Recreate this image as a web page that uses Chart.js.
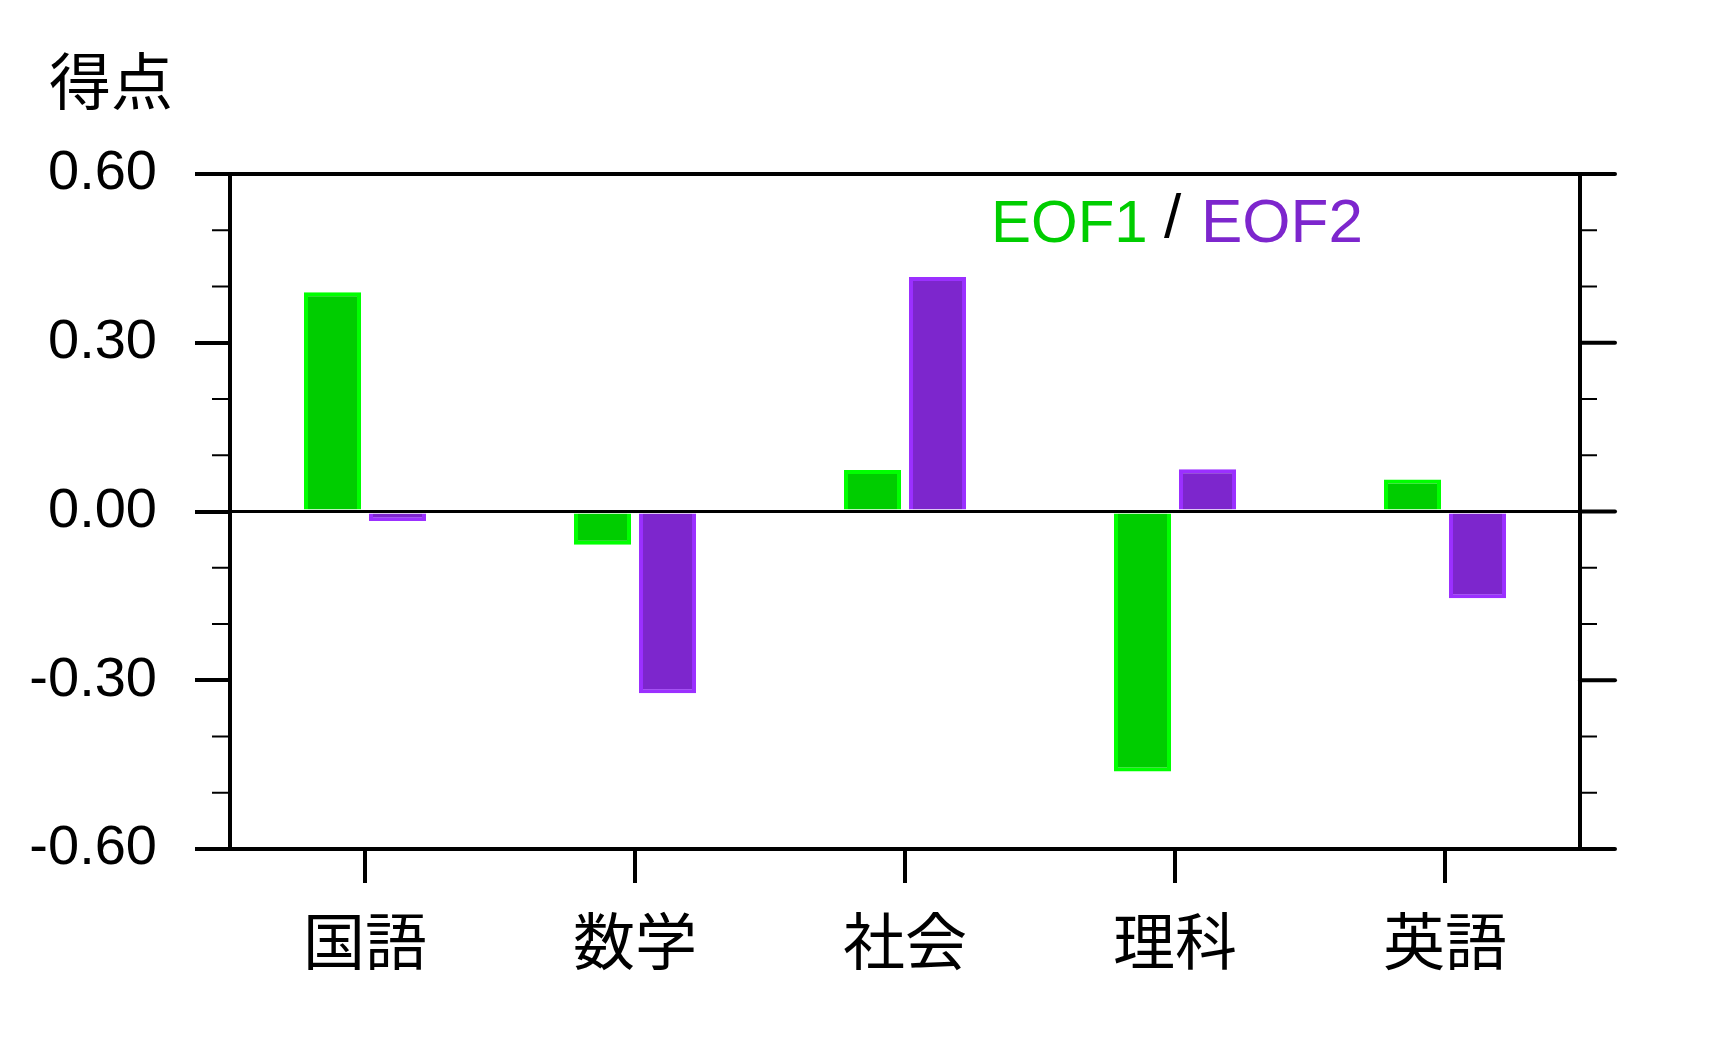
<!DOCTYPE html>
<html>
<head>
<meta charset="utf-8">
<script src="https://cdn.jsdelivr.net/npm/chart.js@4.4.0/dist/chart.umd.min.js"></script>
<style>
  html, body { margin: 0; padding: 0; background: #fff; }
  canvas { display: block; }
</style>
</head>
<body>
<canvas id="c" width="1712" height="1044" style="width:1712px;height:1044px"></canvas>
<script>
// ---- data ----
const categories = ['国語', '数学', '社会', '理科', '英語'];
const eof1 = [0.390, -0.059, 0.074, -0.462, 0.057];
const eof2 = [-0.017, -0.323, 0.417, 0.075, -0.154];
const yMajorTicks = [-0.6, -0.3, 0, 0.3, 0.6];
const yTickLabels = ['-0.60', '-0.30', '0.00', '0.30', '0.60'];
const yMinorTicks = [-0.5, -0.4, -0.2, -0.1, 0.1, 0.2, 0.4, 0.5];
const yTitle = '得点';
const seriesNames = ['EOF1', 'EOF2'];

const GREEN_FILL = '#00CD00', GREEN_EDGE = '#00FF00';
const PURPLE_FILL = '#7D26CD', PURPLE_EDGE = '#9B30FF';
const NUM_FONT = '"Liberation Sans", Arial, Helvetica, sans-serif';
const CJK_FONT = '"Noto Sans CJK JP", "Noto Sans CJK SC", sans-serif';

function seg(ctx, x1, y1, x2, y2) {
  ctx.beginPath(); ctx.moveTo(x1, y1); ctx.lineTo(x2, y2); ctx.stroke();
}

const framePlugin = {
  id: 'frame',
  beforeDatasetsDraw(chart) {
    const { ctx, chartArea: a, scales: { y } } = chart;
    ctx.save();
    ctx.strokeStyle = '#000';
    ctx.lineWidth = 3;
    const y0 = y.getPixelForValue(0);
    seg(ctx, a.left, y0, a.right, y0);
    ctx.restore();
  },
  afterDraw(chart) {
    const { ctx, chartArea: a, scales: { y } } = chart;
    ctx.save();
    ctx.strokeStyle = '#000';
    // top & right border
    ctx.lineWidth = 4;
    seg(ctx, a.left - 2, a.top, a.right + 2, a.top);
    seg(ctx, a.right, a.top - 2, a.right, a.bottom + 2);
    // right major ticks
    ctx.lineCap = 'round';
    yMajorTicks.forEach(v => {
      const p = y.getPixelForValue(v);
      seg(ctx, a.right, p, a.right + 35, p);
    });
    // minor ticks
    ctx.lineCap = 'butt';
    ctx.lineWidth = 2;
    yMinorTicks.forEach(v => {
      const p = y.getPixelForValue(v);
      seg(ctx, a.left - 18, p, a.left, p);
      seg(ctx, a.right, p, a.right + 17, p);
    });
    // y title
    ctx.fillStyle = '#000';
    ctx.font = '62px ' + CJK_FONT;
    ctx.textAlign = 'left';
    ctx.textBaseline = 'middle';
    ctx.fillText(yTitle, 49, 81);
    // legend text
    ctx.textBaseline = 'alphabetic';
    const baseY = 242;
    ctx.font = '60px ' + NUM_FONT;
    ctx.fillStyle = GREEN_FILL;
    ctx.fillText(seriesNames[0], 991, baseY);
    ctx.font = '62px ' + NUM_FONT;
    ctx.fillStyle = '#000';
    ctx.fillText('/', 1164, baseY - 5);
    ctx.fillStyle = PURPLE_FILL;
    ctx.fillText(seriesNames[1], 1201, baseY);
    ctx.restore();
  }
};

new Chart(document.getElementById('c'), {
  type: 'bar',
  data: {
    labels: categories,
    datasets: [
      { label: seriesNames[0], data: eof1, backgroundColor: GREEN_FILL, borderColor: GREEN_EDGE, borderWidth: 4,
        categoryPercentage: 0.4815, barPercentage: 0.877 },
      { label: seriesNames[1], data: eof2, backgroundColor: PURPLE_FILL, borderColor: PURPLE_EDGE, borderWidth: 4,
        categoryPercentage: 0.4815, barPercentage: 0.877 }
    ]
  },
  options: {
    responsive: false,
    devicePixelRatio: 1,
    animation: false,
    layout: { padding: { top: 174, left: 0, right: 132, bottom: 45 } },
    plugins: { legend: { display: false }, tooltip: { enabled: false }, title: { display: false } },
    scales: {
      x: {
        offset: true,
        grid: { display: true, offset: false, drawOnChartArea: false, drawTicks: true, tickLength: 34,
                color: '#000', tickColor: '#000', lineWidth: 4, tickWidth: 4 },
        border: { display: true, color: '#000', width: 4 },
        ticks: { color: '#000', font: { family: CJK_FONT, size: 62 }, padding: 21, maxRotation: 0, autoSkip: false },
        afterFit(s) { s.height = 150; }
      },
      y: {
        min: -0.6, max: 0.6,
        afterBuildTicks(s) { s.ticks = yMajorTicks.map(v => ({ value: v })); },
        ticks: {
          color: '#000', font: { family: NUM_FONT, size: 56 }, padding: 38,
          callback: (v, i) => yTickLabels[i]
        },
        grid: { display: true, drawOnChartArea: false, drawTicks: true, tickLength: 35,
                color: '#000', tickColor: '#000', lineWidth: 4, tickWidth: 4 },
        border: { display: true, color: '#000', width: 4 },
        afterFit(s) { s.width = 230; }
      }
    }
  },
  plugins: [framePlugin]
});
</script>
</body>
</html>
